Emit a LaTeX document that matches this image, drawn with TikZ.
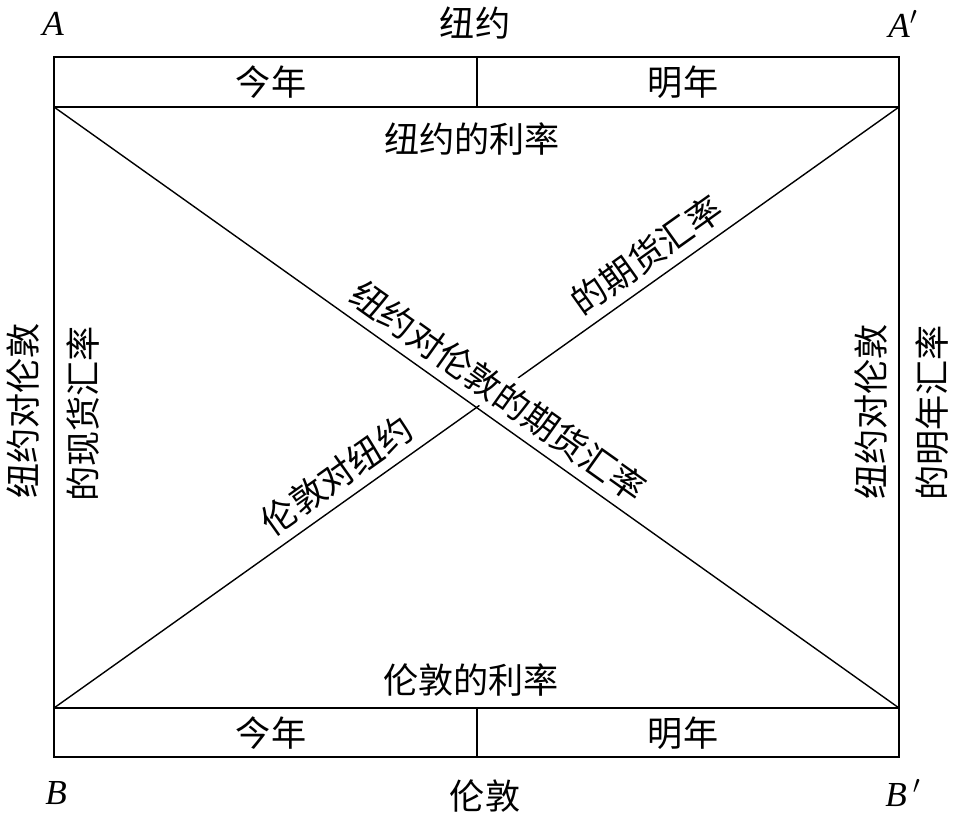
\documentclass[tikz,border=0pt]{standalone}
\usepackage{fontspec}
\setmainfont{Liberation Serif}
\newfontfamily\cjk{Noto Sans CJK SC}
\usetikzlibrary{positioning}

\begin{document}
\begin{tikzpicture}[x=0.02cm,y=-0.02cm,
  lab/.style={font=\cjk\fontsize{20}{23}\selectfont,inner sep=0pt},
  corner/.style={font=\itshape\fontsize{20}{24}\selectfont,inner sep=0pt},
  frame/.style={line width=1.1pt},
  diag/.style={line width=0.8pt},
  sl/.style={lab,sloped,anchor=south,inner sep=0.12cm,outer sep=0.07cm}]
\useasboundingbox (0,0) rectangle (954,820);
% frame with the two bands
\coordinate (tl) at (54,57);
\coordinate (br) at (899,757);
\coordinate (A) at (54,107);
\coordinate (Ap) at (899,107);
\coordinate (B) at (54,708);
\coordinate (Bp) at (899,708);
\coordinate (tm) at (477,57);
\coordinate (tmb) at (477,107);
\coordinate (bm) at (477,708);
\coordinate (bmb) at (477,757);
\draw[frame] (tl) rectangle (br);
\draw[frame] (A) -- (Ap) (B) -- (Bp) (tm) -- (tmb) (bm) -- (bmb);
% diagonals
\draw[diag] (B) -- node[sl,pos=0.352] (ldny) {伦敦对纽约}
  node[sl,pos=0.719] (fwd) {的期货汇率} (Ap);
\path (A) -- node[sl,pos=0.508,fill=white] (nyld) {纽约对伦敦的期货汇率} (Bp);
\draw[diag] (A) -- (Bp);
% texts
\node[lab] (ny) at (475,23) {纽约};
\node[lab] (ld) at (485,796) {伦敦};
\node[lab] (now1) at (271,82) {今年};
\node[lab] (next1) at (683,82) {明年};
\node[lab] (now2) at (271,733) {今年};
\node[lab] (next2) at (683,733) {明年};
\node[lab] (nyrate) at (472,139) {纽约的利率};
\node[lab] (ldrate) at (471,680) {伦敦的利率};
\node[lab,rotate=90] (left1) at (23,411) {纽约对伦敦};
\node[lab,rotate=90] (left2) at (83,414) {的现货汇率};
\node[lab,rotate=90] (right1) at (871,412) {纽约对伦敦};
\node[lab,rotate=90] (right2) at (932,413) {的明年汇率};
\node[corner] (ca) at (53,24) {A};
\node[corner] (cap) at (903,24) {A$'$};
\node[corner] (cb) at (56,793) {B};
\node[corner] (cbp) at (903,793) {B$\,'$};
\end{tikzpicture}
\end{document}
